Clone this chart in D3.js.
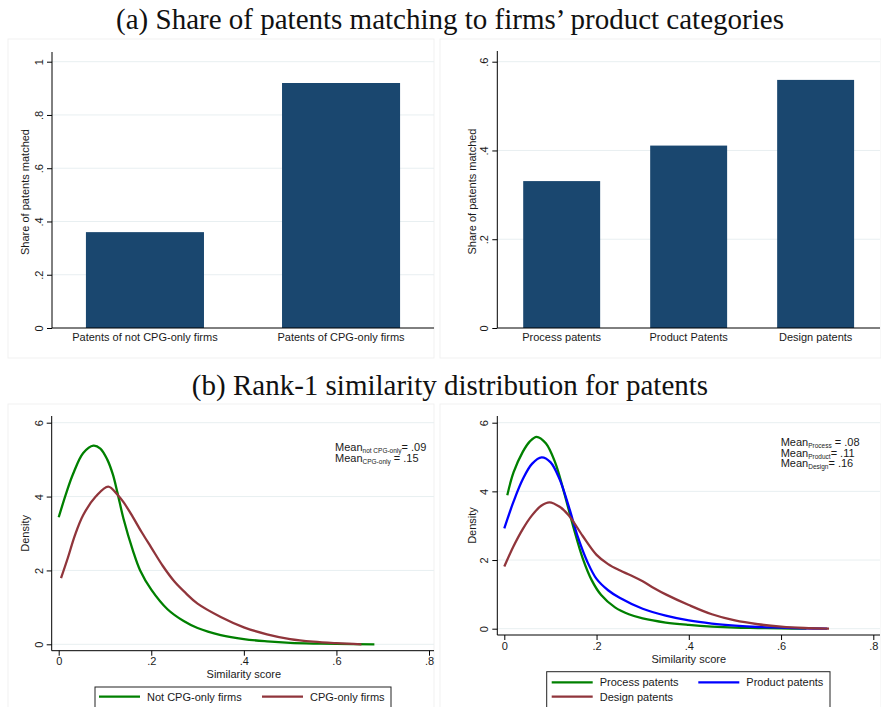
<!DOCTYPE html>
<html>
<head>
<meta charset="utf-8">
<script src="https://cdn.jsdelivr.net/npm/d3@7"></script>
<style>
  body { margin: 0; background: #fff; }
  svg { display: block; }
  text { font-family: "Liberation Sans", Arial, sans-serif; fill: #1a1a1a; }
  .title { font-family: "Liberation Serif", "DejaVu Serif", serif; fill: #111; }
</style>
</head>
<body>
<svg id="chart" width="881" height="707"></svg>
<script>
// ---- Panel (a): share of patents matched ----
const firmCats = ["Patents of not CPG-only firms", "Patents of CPG-only firms"];
const firmShare = [0.36, 0.92];
const firmTicks = [0, 0.2, 0.4, 0.6, 0.8, 1];

const typeCats = ["Process patents", "Product Patents", "Design patents"];
const typeShare = [0.331, 0.411, 0.559];
const typeTicks = [0, 0.2, 0.4, 0.6];

// ---- Panel (b): rank-1 similarity densities ----
const notCpgX = [0, 0.017, 0.031, 0.053, 0.075, 0.09, 0.105, 0.117, 0.127, 0.14, 0.16, 0.176, 0.2, 0.235, 0.27, 0.3, 0.35, 0.4, 0.45, 0.5, 0.55, 0.6, 0.682];
const notCpgY = [3.44, 4.12, 4.61, 5.18, 5.38, 5.3, 5.0, 4.6, 4.1, 3.4, 2.55, 2.0, 1.48, 0.95, 0.63, 0.44, 0.25, 0.14, 0.08, 0.04, 0.02, 0.01, 0.0];
const cpgX = [0.005, 0.02, 0.035, 0.053, 0.08, 0.107, 0.127, 0.14, 0.16, 0.18, 0.2, 0.225, 0.25, 0.275, 0.3, 0.35, 0.4, 0.45, 0.5, 0.55, 0.6, 0.654];
const cpgY = [1.79, 2.35, 2.95, 3.5, 4.0, 4.27, 4.05, 3.85, 3.45, 3.02, 2.62, 2.12, 1.7, 1.38, 1.1, 0.74, 0.46, 0.27, 0.14, 0.07, 0.03, 0.0];

const processX = [0.0065, 0.02, 0.04, 0.055, 0.07, 0.09, 0.11, 0.13, 0.15, 0.17, 0.19, 0.21, 0.24, 0.27, 0.3, 0.35, 0.4, 0.45, 0.5, 0.55, 0.6, 0.655];
const processY = [3.89, 4.55, 5.15, 5.45, 5.59, 5.4, 4.85, 3.95, 2.95, 2.05, 1.4, 0.98, 0.62, 0.42, 0.3, 0.18, 0.11, 0.06, 0.03, 0.02, 0.01, 0.0];
const productX = [0, 0.02, 0.04, 0.06, 0.081, 0.1, 0.12, 0.14, 0.16, 0.18, 0.2, 0.225, 0.25, 0.3, 0.35, 0.4, 0.45, 0.5, 0.55, 0.6, 0.65, 0.7];
const productY = [2.92, 3.7, 4.35, 4.8, 4.99, 4.85, 4.35, 3.55, 2.65, 1.95, 1.45, 1.12, 0.9, 0.58, 0.38, 0.24, 0.15, 0.09, 0.05, 0.03, 0.01, 0.0];
const designX = [0, 0.02, 0.04, 0.06, 0.08, 0.098, 0.12, 0.14, 0.17, 0.2, 0.225, 0.25, 0.275, 0.3, 0.325, 0.35, 0.4, 0.45, 0.5, 0.55, 0.6, 0.65, 0.704];
const designY = [1.81, 2.4, 2.9, 3.3, 3.58, 3.68, 3.55, 3.3, 2.7, 2.15, 1.88, 1.7, 1.55, 1.38, 1.18, 1.0, 0.69, 0.42, 0.24, 0.13, 0.06, 0.02, 0.0];

const simTicks = [0, 0.2, 0.4, 0.6, 0.8];
const densTicks = [0, 2, 4, 6];

const NAVY = "#1a476f", GREEN = "#008000", MAROON = "#90353b", BLUE = "#0000ff", GRID = "#e8eff1";

const svg = d3.select("#chart");
const decimal = d => { const s = d3.format(".1f")(d); return s.endsWith(".0") ? s.slice(0, -2) : s.replace(/^0\./, "."); };

// faint outlines of the graph regions
[[8, 39, 426, 319], [440, 39, 441, 319], [8, 404, 426, 320], [440, 404, 441, 320]].forEach(([x, y, w, h]) =>
  svg.append("rect").attr("x", x).attr("y", y).attr("width", w).attr("height", h)
    .attr("fill", "none").attr("stroke", "#f1f1f1"));

// titles
svg.append("text").attr("class", "title").attr("x", 450).attr("y", 29)
  .attr("text-anchor", "middle").style("font-size", "29px")
  .text("(a) Share of patents matching to firms\u2019 product categories");
svg.append("text").attr("class", "title").attr("x", 450).attr("y", 395)
  .attr("text-anchor", "middle").style("font-size", "29px")
  .text("(b) Rank-1 similarity distribution for patents");

function yAxis(g, y, ticks, fmt, x0, x1) {
  // gridlines
  g.selectAll(".grid").data(ticks).join("line").attr("class", "grid")
    .attr("x1", x0).attr("x2", x1).attr("y1", d => y(d)).attr("y2", d => y(d))
    .attr("stroke", GRID).attr("stroke-width", 1);
  const ax = g.append("g").attr("transform", `translate(${x0},0)`)
    .call(d3.axisLeft(y).tickValues(ticks).tickFormat(fmt).tickSize(5));
  ax.select(".domain").remove();
  ax.selectAll(".tick line").attr("stroke", "#000");
  ax.selectAll(".tick text").attr("x", 0).attr("dy", 0).attr("text-anchor", "middle")
    .attr("transform", "translate(-9,0) rotate(-90)")
    .style("font-size", "11px").attr("fill", "#1a1a1a");
}

function axisFrame(g, x0, x1, yTop, yBase) {
  g.append("line").attr("x1", x0).attr("x2", x0).attr("y1", yTop).attr("y2", yBase).attr("stroke", "#000");
  g.append("line").attr("x1", x0).attr("x2", x1).attr("y1", yBase).attr("y2", yBase).attr("stroke", "#000");
}

function yTitle(g, label, x, yc) {
  g.append("text").attr("transform", `translate(${x},${yc}) rotate(-90)`)
    .attr("text-anchor", "middle").style("font-size", "11px").text(label);
}

// ---- bar panels ----
function barPanel(cats, vals, ticks, cfg) {
  const g = svg.append("g");
  const x = d3.scaleBand().domain(cats).range([cfg.x0, cfg.x1])
    .paddingInner(cfg.pin).paddingOuter(cfg.pout);
  const y = d3.scaleLinear().domain([0, ticks[ticks.length - 1]]).range([cfg.base, cfg.topTick]);
  yAxis(g, y, ticks.slice(1), decimal, cfg.x0, cfg.x1);
  // zero tick (sits on the baseline)
  const z = g.append("g").attr("transform", `translate(${cfg.x0},0)`)
    .call(d3.axisLeft(y).tickValues([0]).tickFormat(decimal).tickSize(5));
  z.select(".domain").remove();
  z.selectAll(".tick text").attr("x", 0).attr("dy", 0).attr("text-anchor", "middle")
    .attr("transform", "translate(-9,0) rotate(-90)").style("font-size", "11px");
  g.selectAll(".bar").data(vals).join("rect").attr("class", "bar")
    .attr("x", (d, i) => x(cats[i])).attr("width", x.bandwidth())
    .attr("y", d => y(d)).attr("height", d => y(0) - y(d)).attr("fill", NAVY);
  axisFrame(g, cfg.x0, cfg.x1, cfg.top, cfg.base);
  const xa = g.append("g").attr("transform", `translate(0,${cfg.base})`)
    .call(d3.axisBottom(x).tickSize(0).tickPadding(5));
  xa.select(".domain").remove();
  xa.selectAll("text").style("font-size", "11px").attr("fill", "#1a1a1a");
  yTitle(g, "Share of patents matched", cfg.titleX, (cfg.top + cfg.base) / 2 + 2);
}

barPanel(firmCats, firmShare, firmTicks,
  { x0: 52, x1: 434, top: 52, base: 328, topTick: 61.7, pin: 0.398, pout: 0.173, titleX: 29 });
barPanel(typeCats, typeShare, typeTicks,
  { x0: 497.3, x1: 880, top: 51, base: 328, topTick: 61.7, pin: 0.394, pout: 0.204, titleX: 475.5 });

// ---- density panels ----
function densityPanel(series, cfg) {
  const g = svg.append("g");
  const x = d3.scaleLinear().domain([0, 0.8]).range([cfg.xz, cfg.xe]);
  const y = d3.scaleLinear().domain([0, 6]).range([cfg.yz, cfg.ys]);
  yAxis(g, y, densTicks, d3.format("d"), cfg.x0, cfg.x1);
  axisFrame(g, cfg.x0, cfg.x1, cfg.top, cfg.base);
  const xa = g.append("g").attr("transform", `translate(0,${cfg.base})`)
    .call(d3.axisBottom(x).tickValues(simTicks).tickFormat(decimal).tickSize(5).tickPadding(2));
  xa.select(".domain").remove();
  xa.selectAll(".tick line").attr("stroke", "#000");
  xa.selectAll("text").style("font-size", "11px").attr("fill", "#1a1a1a");
  g.append("text").attr("x", (cfg.xz + cfg.xe) / 2).attr("y", cfg.base + 27.5)
    .attr("text-anchor", "middle").style("font-size", "11px").text("Similarity score");
  yTitle(g, "Density", cfg.titleX, (cfg.top + cfg.base) / 2);

  const line = d3.line().x(d => x(d[0])).y(d => y(d[1])).curve(d3.curveCatmullRom.alpha(0.5));
  series.forEach(s => {
    g.append("path").datum(d3.zip(s.xs, s.ys)).attr("d", line)
      .attr("fill", "none").attr("stroke", s.color).attr("stroke-width", 2.3);
  });

  // mean annotation
  cfg.means.forEach((m, i) => {
    const t = g.append("text").attr("x", cfg.meanX).attr("y", cfg.meanY + i * cfg.meanStep)
      .style("font-size", "11px");
    t.append("tspan").text("Mean");
    t.append("tspan").attr("dy", 2).style("font-size", "6.5px").text(m[0]);
    t.append("tspan").attr("dy", -2).text(m[1]);
  });

  // legend
  g.append("rect").attr("x", cfg.leg.x).attr("y", cfg.leg.y).attr("width", cfg.leg.w).attr("height", 60)
    .attr("fill", "#fff").attr("stroke", "#222").attr("stroke-width", 1);
  series.forEach((s, i) => {
    const [lx, ly] = cfg.leg.pos[i];
    g.append("line").attr("x1", lx).attr("x2", lx + 41).attr("y1", ly).attr("y2", ly)
      .attr("stroke", s.color).attr("stroke-width", 2.3);
    g.append("text").attr("x", lx + 48).attr("y", ly + 3.8).style("font-size", "11px").text(s.name);
  });
}

densityPanel([
  { name: "Not CPG-only firms", xs: notCpgX, ys: notCpgY, color: GREEN },
  { name: "CPG-only firms", xs: cpgX, ys: cpgY, color: MAROON }
], {
  x0: 51.7, x1: 434, top: 416, base: 650.7, xz: 58.7, xe: 429, yz: 644.3, ys: 422.7, titleX: 29,
  meanX: 335, meanY: 450.7, meanStep: 11,
  means: [["not CPG-only", "= .09"], ["CPG-only", " = .15"]],
  leg: { x: 95, y: 687, w: 296, pos: [[99, 696.7], [262, 696.7]] }
});

densityPanel([
  { name: "Process patents", xs: processX, ys: processY, color: GREEN },
  { name: "Product patents", xs: productX, ys: productY, color: BLUE },
  { name: "Design patents", xs: designX, ys: designY, color: MAROON }
], {
  x0: 497.3, x1: 880, top: 416, base: 635, xz: 504.3, xe: 873.3, yz: 628.7, ys: 422.7, titleX: 475.5,
  meanX: 780.7, meanY: 445.7, meanStep: 10.8,
  means: [["Process", " = .08"], ["Product", "= .11"], ["Design", "= .16"]],
  leg: { x: 546.7, y: 671.7, w: 283.3, pos: [[551.7, 682.3], [698.3, 682.3], [551.7, 696.7]] }
});
</script>
</body>
</html>
